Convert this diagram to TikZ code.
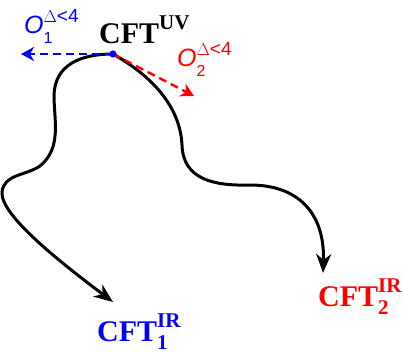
\documentclass[tikz,border=0pt]{standalone}
\usepackage{fontspec}
\setmainfont{Liberation Serif}
\newfontfamily\opfont{Liberation Sans}
\usetikzlibrary{arrows.meta}

% superscript #1 raised by #3, subscript #2 lowered by #4, stacked
\newcommand\stackscripts[4]{{%
  \setbox0\hbox{\raisebox{#3}{#1}}%
  \setbox2\hbox{\raisebox{-#4}{#2}}%
  \ifdim\wd0>\wd2 \rlap{\box2}\box0\else\rlap{\box0}\box2\fi}}

\newcommand\cft{\fontsize{30}{30}\selectfont\bfseries CFT}
\newcommand\scr{\fontsize{21}{21}\selectfont\bfseries}
\newcommand\opname[1]{{\opfont\fontsize{25}{25}\selectfont\itshape O}%
  \stackscripts{\opfont\fontsize{19}{19}\selectfont $\Delta$<4}{\opfont\fontsize{16}{16}\selectfont #1}{11pt}{10pt}}

\tikzset{
  lbl/.style={inner sep=0pt, anchor=base west},
  flow/.style={line width=3pt, -{Stealth[length=19pt,width=15pt,inset=6pt]}},
  pert/.style={line width=2.4pt, dash pattern=on 8pt off 5pt,
    -{Stealth[length=13pt,width=14pt,inset=4pt]}},
}

\begin{document}
\begin{tikzpicture}[x=1pt,y=-1pt]
  \useasboundingbox (0,0) rectangle (403,351);

  % fixed point and flow endpoints
  \coordinate (uv) at (113,54);
  \coordinate (ir1tip) at (113,302);
  \coordinate (ir2tip) at (323,273);
  \coordinate (o1tip) at (21,54);
  \coordinate (o2tip) at (194,96);

  % RG flows
  \draw[flow] (uv) .. controls (80,54) and (55,65) .. (54,95)
    .. controls (54,120) and (62,148) .. (40,166)
    .. controls (25,176) and (4,174) .. (2,192)
    .. controls (0,215) and (60,262) .. (ir1tip);
  \draw[flow] (uv) .. controls (150,75) and (180,105) .. (182,145)
    .. controls (183,180) and (215,186) .. (250,185)
    .. controls (300,185) and (325,215) .. (ir2tip);

  % relevant deformations
  \draw[pert, blue] (uv) -- (o1tip);
  \draw[pert, red] (uv) -- (o2tip);
  \fill[blue] (uv) circle (3.6pt);

  % labels
  \node[lbl] (uvlabel) at (99,43) {\cft\stackscripts{\scr UV}{}{14pt}{0pt}};
  \node[lbl, blue] (ir1label) at (97,341) {\cft\stackscripts{\scr IR}{\scr 1}{14pt}{8pt}};
  \node[lbl, red] (ir2label) at (318,306) {\cft\stackscripts{\scr IR}{\scr 2}{14pt}{8pt}};
  \node[lbl, blue] (o1label) at (24,33) {\opname{1}};
  \node[lbl, red] (o2label) at (177,66) {\opname{2}};
\end{tikzpicture}
\end{document}
